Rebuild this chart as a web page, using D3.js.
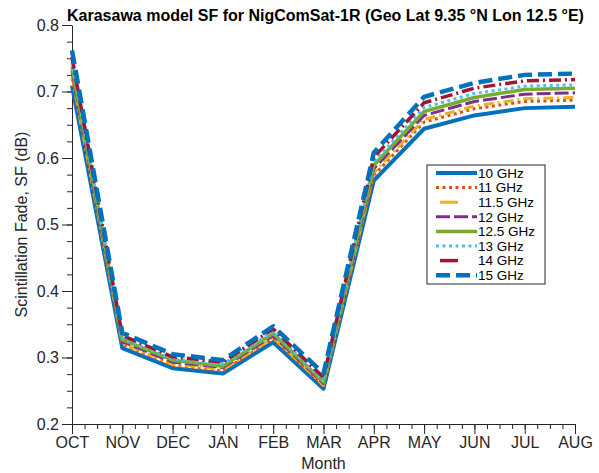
<!DOCTYPE html>
<html>
<head>
<meta charset="utf-8">
<script src="https://cdn.jsdelivr.net/npm/d3@7"></script>
<style>
  body { margin: 0; background: #fff; }
  svg { font-family: "Liberation Sans", Arial, sans-serif; }
</style>
</head>
<body>
<div id="chart"></div>
<script>
const months = ['OCT', 'NOV', 'DEC', 'JAN', 'FEB', 'MAR', 'APR', 'MAY', 'JUN', 'JUL', 'AUG'];
const freqLabels = ['10 GHz', '11 GHz', '11.5 GHz', '12 GHz', '12.5 GHz', '13 GHz', '14 GHz', '15 GHz'];

const sf10 = [0.709, 0.314, 0.284, 0.276, 0.323, 0.253, 0.566, 0.644, 0.664, 0.675, 0.677];
const sf11 = [0.720, 0.319, 0.288, 0.280, 0.328, 0.257, 0.574, 0.654, 0.674, 0.685, 0.687];
const sf115 = [0.724, 0.321, 0.290, 0.282, 0.330, 0.258, 0.578, 0.658, 0.678, 0.689, 0.691];
const sf12 = [0.731, 0.324, 0.293, 0.285, 0.333, 0.261, 0.584, 0.664, 0.685, 0.696, 0.698];
const sf125 = [0.738, 0.327, 0.296, 0.287, 0.336, 0.263, 0.589, 0.670, 0.691, 0.703, 0.705];
const sf13 = [0.744, 0.329, 0.298, 0.290, 0.339, 0.265, 0.594, 0.676, 0.697, 0.708, 0.710];
const sf14 = [0.752, 0.333, 0.301, 0.293, 0.343, 0.270, 0.601, 0.683, 0.705, 0.716, 0.718];
const sf15 = [0.762, 0.337, 0.305, 0.296, 0.347, 0.276, 0.608, 0.692, 0.713, 0.725, 0.727];

const yTicks = [0.2, 0.3, 0.4, 0.5, 0.6, 0.7, 0.8];

// short: dash-dot styles show one short dash in the legend
const series = [
    { name: freqLabels[0], values: sf10, color: '#0072BD', width: 4, dash: null },
    { name: freqLabels[1], values: sf11, color: '#D95319', width: 3, dash: '3,3.5' },
    { name: freqLabels[2], values: sf115, color: '#EDB120', width: 3, dash: '10,4,2,4', short: true },
    { name: freqLabels[3], values: sf12, color: '#7E2F8E', width: 3, dash: '14,4' },
    { name: freqLabels[4], values: sf125, color: '#77AC30', width: 3.5, dash: null },
    { name: freqLabels[5], values: sf13, color: '#4DBEEE', width: 3, dash: '3,3.5' },
    { name: freqLabels[6], values: sf14, color: '#A2142F', width: 3.5, dash: '12,4,2,4', short: true },
    { name: freqLabels[7], values: sf15, color: '#0072BD', width: 4.5, dash: '14,6' },
];

const WIDTH = 599, HEIGHT = 473;
const margin = { top: 25, right: 24, bottom: 49, left: 72 };
const width = WIDTH - margin.left - margin.right,
    height = HEIGHT - margin.top - margin.bottom;
const axisColor = '#262626';

const svg = d3.select('#chart').append('svg')
    .attr('width', WIDTH)
    .attr('height', HEIGHT);

const container = svg.append('g')
    .attr('transform', `translate(${margin.left} ${margin.top})`);

const xScale = d3.scaleLinear()
    .domain([0, months.length - 1])
    .range([0, width]);

const yScale = d3.scaleLinear()
    .domain([0.2, 0.8])
    .range([height, 0]);

// minor ticks
const xMinor = d3.range(0, months.length - 1 + 0.001, 0.25);
const yMinor = d3.range(0.2, 0.8001, 0.025);

container.append('g')
    .attr('transform', `translate(0, ${height})`)
    .call(d3.axisBottom(xScale).tickValues(xMinor).tickSize(5).tickFormat(''))
    .call((g) => g.select('.domain').remove());

container.append('g')
    .call(d3.axisLeft(yScale).tickValues(yMinor).tickSize(5).tickFormat(''))
    .call((g) => g.select('.domain').remove());

const xAxis = container.append('g')
    .attr('transform', `translate(0, ${height})`)
    .call(d3.axisBottom(xScale)
        .tickValues(d3.range(months.length))
        .tickSize(10)
        .tickSizeOuter(0)
        .tickFormat((i) => months[i]));

const yAxis = container.append('g')
    .call(d3.axisLeft(yScale)
        .tickValues(yTicks)
        .tickSize(10)
        .tickSizeOuter(0)
        .tickFormat(d3.format('.1f')));

container.selectAll('.tick line, .domain')
    .attr('stroke', axisColor)
    .attr('stroke-width', 1);

xAxis.selectAll('text')
    .attr('fill', axisColor)
    .attr('font-size', 16)
    .attr('dy', '0.71em')
    .attr('y', 13);

yAxis.selectAll('text')
    .attr('fill', axisColor)
    .attr('font-size', 16)
    .attr('x', -13);

// lines
const line = d3.line()
    .x((d, i) => xScale(i))
    .y((d) => yScale(d));

container.selectAll('path.series')
    .data(series)
    .join('path')
    .attr('class', 'series')
    .attr('fill', 'none')
    .attr('stroke', (d) => d.color)
    .attr('stroke-width', (d) => d.width)
    .attr('stroke-dasharray', (d) => d.dash)
    .attr('stroke-linejoin', 'round')
    .attr('d', (d) => line(d.values));

// title and labels
svg.append('text')
    .attr('x', margin.left + width / 2 + 2)
    .attr('y', 21)
    .attr('text-anchor', 'middle')
    .attr('font-size', 16)
    .attr('font-weight', 'bold')
    .attr('fill', '#000')
    .text('Karasawa model SF for NigComSat-1R (Geo Lat 9.35 °N Lon 12.5 °E)');

svg.append('text')
    .attr('x', margin.left + width / 2)
    .attr('y', 469)
    .attr('text-anchor', 'middle')
    .attr('font-size', 16)
    .attr('fill', axisColor)
    .text('Month');

svg.append('text')
    .attr('transform', `translate(27, ${margin.top + height / 2}) rotate(-90)`)
    .attr('text-anchor', 'middle')
    .attr('font-size', 16)
    .attr('fill', axisColor)
    .text('Scintillation Fade, SF (dB)');

// legend
const legend = svg.append('g')
    .attr('transform', 'translate(427, 165)');

legend.append('rect')
    .attr('width', 118)
    .attr('height', 119)
    .attr('fill', '#fff')
    .attr('stroke', axisColor)
    .attr('stroke-width', 1);

const rowH = 14.6;
const items = legend.selectAll('g.item')
    .data(series)
    .join('g')
    .attr('class', 'item')
    .attr('transform', (d, i) => `translate(0, ${8 + i * rowH})`);

items.append('line')
    .attr('x1', (d) => (d.short ? 13 : 9))
    .attr('x2', (d) => (d.short ? 31 : 50))
    .attr('stroke', (d) => d.color)
    .attr('stroke-width', (d) => d.width)
    .attr('stroke-dasharray', (d) => (d.short ? null : d.dash));

items.append('text')
    .attr('x', 51)
    .attr('dy', '0.36em')
    .attr('font-size', 13.5)
    .attr('fill', '#000')
    .text((d) => d.name);
</script>
</body>
</html>
